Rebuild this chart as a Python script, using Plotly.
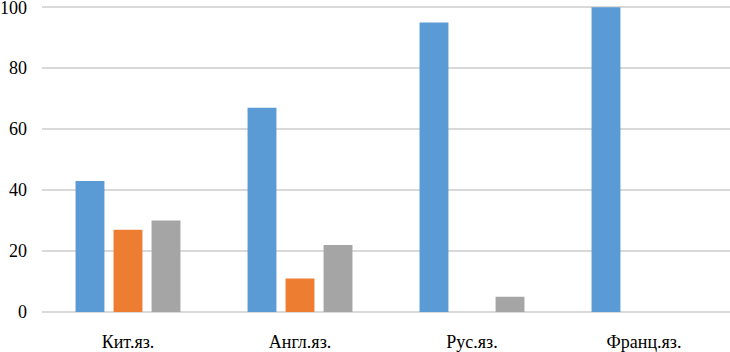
import plotly.graph_objects as go

categories = ["Кит.яз.", "Англ.яз.", "Рус.яз.", "Франц.яз."]
series1 = [43, 67, 95, 100]
series2 = [27, 11, 0, 0]
series3 = [30, 22, 5, 0]
y_ticks = [0, 20, 40, 60, 80, 100]

colors = ["#5B9BD5", "#ED7D31", "#A5A5A5"]
font_family = "Liberation Serif"

fig = go.Figure()
for name, vals, c in zip(["Ряд 1", "Ряд 2", "Ряд 3"], [series1, series2, series3], colors):
    fig.add_trace(go.Bar(x=categories, y=vals, name=name, marker=dict(color=c, line=dict(width=0))))

fig.update_layout(
    width=730, height=352,
    margin=dict(l=42, r=0, t=6, b=40, autoexpand=False),
    barmode="group",
    bargap=0.337,
    bargroupgap=0.24,
    showlegend=False,
    plot_bgcolor="white",
    paper_bgcolor="white",
    font=dict(family=font_family, size=18, color="#000000"),
)
fig.update_xaxes(showgrid=False, showline=False, ticks="", automargin=False,
                 tickfont=dict(family=font_family, size=18), ticklabelstandoff=17)
fig.update_yaxes(range=[0, 100.4], tickvals=y_ticks, ticktext=[str(v) for v in y_ticks],
                 showgrid=True, gridcolor="#D9D9D9", gridwidth=2,
                 zeroline=True, zerolinecolor="#D9D9D9", zerolinewidth=2, showline=False, automargin=False,
                 ticks="", tickfont=dict(family=font_family, size=18), ticklabelstandoff=14,
                 ticklabeloverflow="allow")

fig.write_html("out.html", config={"displayModeBar": False},
               post_script="document.body.style.margin='0';document.body.style.padding='0';")
